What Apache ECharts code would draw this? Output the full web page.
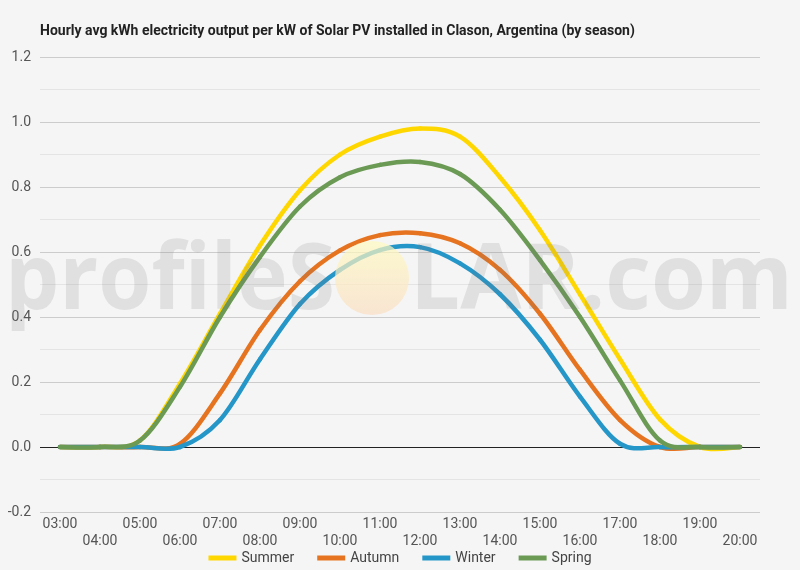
<!DOCTYPE html>
<html>
<head>
<meta charset="utf-8">
<script src="https://cdn.jsdelivr.net/npm/echarts@6/dist/echarts.min.js"></script>
<style>
  html, body { margin: 0; padding: 0; background: #f5f5f5; }
  #chart { width: 800px; height: 570px; }
</style>
</head>
<body>
<div id="chart"></div>
<script>
var hours = ['03:00', '04:00', '05:00', '06:00', '07:00', '08:00', '09:00', '10:00', '11:00',
    '12:00', '13:00', '14:00', '15:00', '16:00', '17:00', '18:00', '19:00', '20:00'];

var summer = [0, 0, 0.02, 0.195, 0.41, 0.62, 0.79, 0.90, 0.955, 0.98, 0.955, 0.83, 0.667, 0.47, 0.27, 0.085, 0.0, 0];
var autumn = [0, 0, 0, 0.01, 0.165, 0.36, 0.51, 0.605, 0.652, 0.658, 0.627, 0.545, 0.41, 0.237, 0.083, 0.0, 0, 0];
var winter = [0, 0, 0, 0.0, 0.083, 0.27, 0.44, 0.545, 0.606, 0.615, 0.565, 0.47, 0.33, 0.155, 0.01, 0, 0, 0];
var spring = [0, 0, 0.02, 0.185, 0.40, 0.585, 0.74, 0.83, 0.868, 0.877, 0.84, 0.73, 0.575, 0.40, 0.205, 0.02, 0, 0];

var seasonNames = ['Summer', 'Autumn', 'Winter', 'Spring'];
var seasonColors = ['#ffd700', '#e6731f', '#2596c8', '#6b9a55'];

var chart = echarts.init(document.getElementById('chart'));

// smooth curve through the points (catmull-rom style), one segment per data item
function curveRenderer(values, color) {
    return function (params, api) {
        var i = params.dataIndex;
        if (i >= values.length - 1) return;
        var pt = function (k) {
            k = Math.max(0, Math.min(values.length - 1, k));
            return api.coord([k, values[k]]);
        };
        var p0 = pt(i - 1), p1 = pt(i), p2 = pt(i + 1), p3 = pt(i + 2);
        var t = 1 / 6;
        return {
            type: 'bezierCurve',
            shape: {
                x1: p1[0], y1: p1[1],
                x2: p2[0], y2: p2[1],
                cpx1: p1[0] + (p2[0] - p0[0]) * t,
                cpy1: p1[1] + (p2[1] - p0[1]) * t,
                cpx2: p2[0] - (p3[0] - p1[0]) * t,
                cpy2: p2[1] - (p3[1] - p1[1]) * t
            },
            style: { stroke: color, lineWidth: 4.5, fill: null, lineCap: 'round' },
            silent: true
        };
    };
}

function makeSeries(i, values) {
    return {
        name: seasonNames[i],
        type: 'custom',
        data: values.map(function (v, k) { return [k, v]; }),
        encode: { x: 0, y: 1 },
        renderItem: curveRenderer(values, seasonColors[i]),
        itemStyle: { color: seasonColors[i] },
        z: 3 + i
    };
}

var series = [
    makeSeries(0, summer),
    makeSeries(1, autumn),
    makeSeries(2, winter),
    makeSeries(3, spring)
];
// black zero line
series.unshift({
    type: 'line',
    data: [],
    silent: true,
    markLine: {
        silent: true,
        symbol: 'none',
        label: { show: false },
        lineStyle: { color: '#222', width: 1, type: 'solid' },
        data: [{ yAxis: 0 }]
    },
    z: 2
});

// watermark text, stretched to the width it has in the picture
var wmFont = '700 92px "Open Sans"';
var ctx = document.createElement('canvas').getContext('2d');
ctx.font = wmFont;
var w1 = ctx.measureText('profileS').width;
var w2 = ctx.measureText('LAR.com').width;

var option = {
    backgroundColor: '#f5f5f5',
    animation: false,
    title: {
        text: 'Hourly avg kWh electricity output per kW of Solar PV installed in Clason, Argentina (by season)',
        left: 35,
        top: 19,
        textStyle: { fontFamily: 'Roboto', fontSize: 14, fontWeight: 'bold', color: '#222' }
    },
    legend: {
        top: 546,
        left: 'center',
        itemWidth: 28,
        itemHeight: 5,
        itemGap: 23,
        icon: 'rect',
        textStyle: { fontFamily: 'Roboto', fontSize: 14, color: '#444' },
        data: seasonNames
    },
    grid: { left: 40, right: 40, top: 57, bottom: 58 },
    xAxis: {
        type: 'category',
        data: hours,
        boundaryGap: true,
        axisLine: { show: false },
        axisTick: { show: false },
        splitLine: { show: false },
        axisLabel: {
            interval: 0,
            margin: 4,
            fontFamily: 'Roboto',
            fontSize: 14,
            lineHeight: 17,
            color: '#555',
            formatter: function (val, idx) {
                return idx % 2 === 1 ? '\n' + val : val;
            }
        }
    },
    yAxis: {
        type: 'value',
        min: -0.2,
        max: 1.2,
        interval: 0.2,
        axisLine: { show: false },
        axisTick: { show: false },
        axisLabel: {
            margin: 9,
            fontFamily: 'Roboto',
            fontSize: 14,
            color: '#555',
            formatter: function (v) { return v.toFixed(1); }
        },
        splitLine: { lineStyle: { color: '#cccccc', width: 1 } },
        minorTick: { show: false, splitNumber: 2 },
        minorSplitLine: { show: true, lineStyle: { color: '#e4e4e4', width: 1 } }
    },
    graphic: [
        {
            type: 'text',
            x: 5,
            y: 237,
            scaleX: 330 / w1,
            z: 100,
            silent: true,
            style: {
                text: 'profileS',
                font: wmFont,
                fill: 'rgba(120,120,120,0.16)'
            }
        },
        {
            type: 'circle',
            shape: { cx: 372, cy: 278, r: 37 },
            z: 99,
            silent: true,
            style: {
                fill: new echarts.graphic.LinearGradient(0, 0, 0, 1, [
                    { offset: 0, color: 'rgba(255,250,190,0.7)' },
                    { offset: 1, color: 'rgba(250,222,195,0.7)' }
                ])
            }
        },
        {
            type: 'text',
            x: 410,
            y: 237,
            scaleX: 383 / w2,
            z: 100,
            silent: true,
            style: {
                text: 'LAR.com',
                font: wmFont,
                fill: 'rgba(120,120,120,0.16)'
            }
        }
    ],
    series: series
};
chart.setOption(option);
</script>
</body>
</html>
